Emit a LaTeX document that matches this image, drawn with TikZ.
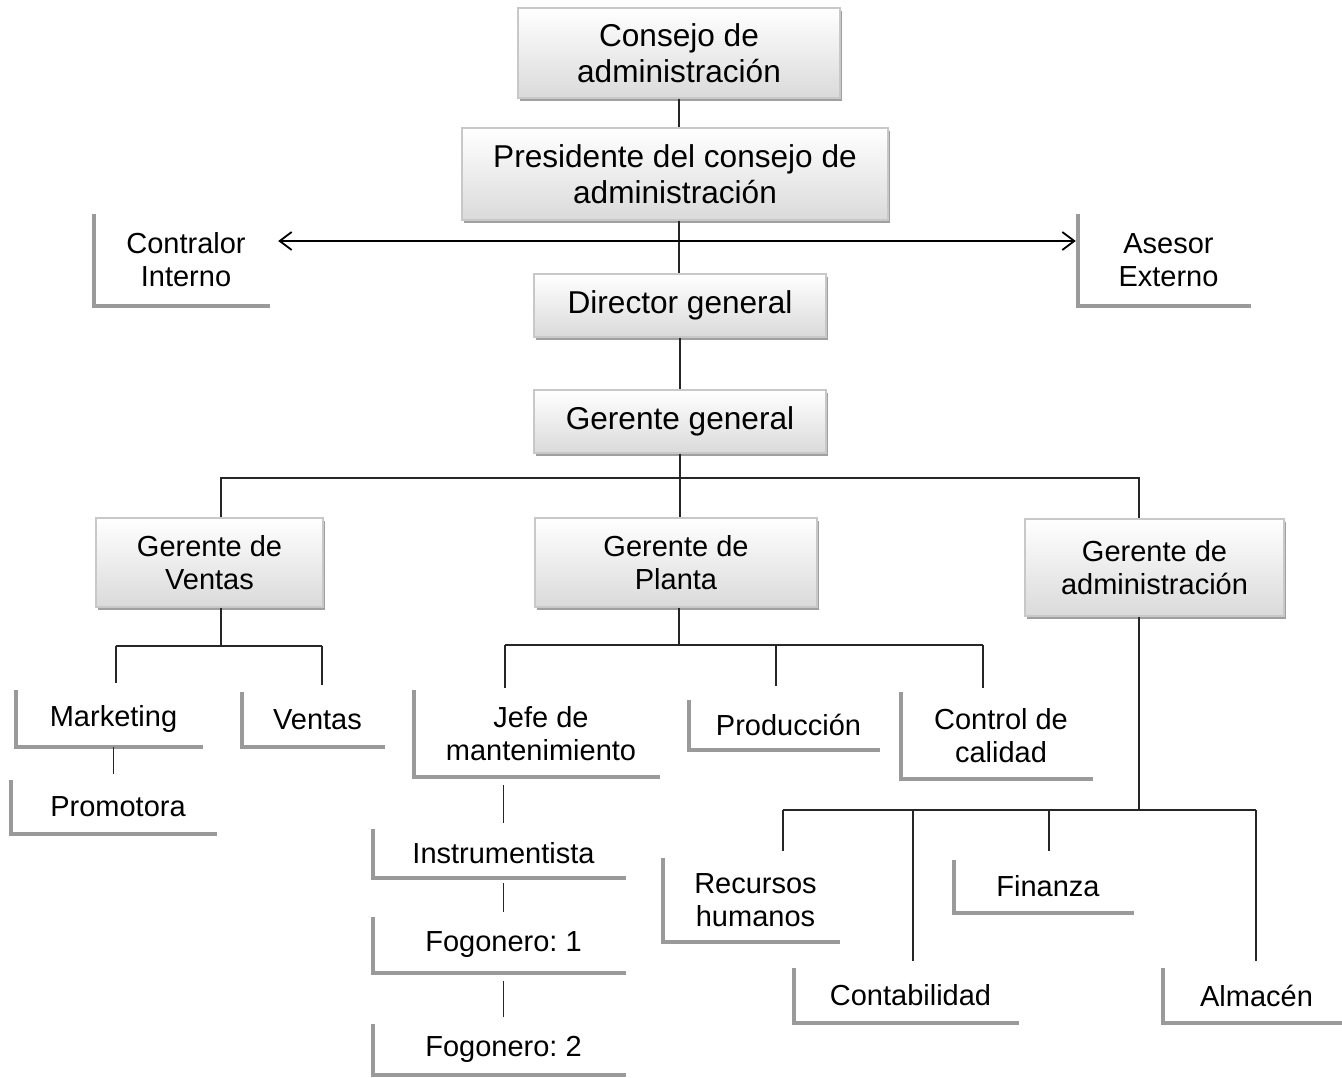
\documentclass[tikz,border=0pt]{standalone}
\usepackage{fontspec}
\setmainfont{Liberation Sans}
\usetikzlibrary{shadows,arrows.meta}
\definecolor{bline}{HTML}{9A9A9A}
\definecolor{boxedge}{HTML}{C8C8C8}
\definecolor{boxbot}{HTML}{DADADA}
\definecolor{shad}{HTML}{A0A0A0}
\frenchspacing
\begin{document}
\begin{tikzpicture}[x=1pt,y=-1pt,
  box/.style={draw=boxedge, line width=1.2pt, top color=white, bottom color=boxbot,
    drop shadow={shadow xshift=1.5pt, shadow yshift=-3pt, fill=shad, opacity=1},
    align=center, inner sep=0pt},
  bigtxt/.style={font=\fontsize{31.6}{36}\selectfont},
  smalltxt/.style={font=\fontsize{29}{33}\selectfont},
  lbox/.style={align=center, inner sep=0pt, font=\fontsize{29}{33}\selectfont},
  lshape/.style={draw=bline, line width=4pt, line join=miter},
  conn/.style={draw=black!85, line width=1.2pt},
]
\useasboundingbox (0,0) rectangle (1342,1078);

% boxes
\node[box,bigtxt,minimum width=322pt,minimum height=90pt] (cons) at (679,53) {Consejo de\\administración};
\node[box,bigtxt,minimum width=426pt,minimum height=92pt] (pres) at (675,174) {Presidente del consejo de\\administración};
\node[box,bigtxt,minimum width=292pt,minimum height=63pt] (dir) at (680,305.5) {Director general};
\node[box,bigtxt,minimum width=292pt,minimum height=63pt] (gg) at (680,421.5) {Gerente general};
\node[box,smalltxt,minimum width=227pt,minimum height=89pt] (gv) at (209.5,562.5) {Gerente de\\Ventas};
\node[box,smalltxt,minimum width=282pt,minimum height=89pt] (gp) at (676,562.5) {Gerente de\\Planta};
\node[box,smalltxt,minimum width=259pt,minimum height=97pt] (ga) at (1154.5,567.5) {Gerente de\\administración};

% bracket nodes (x range starts 8 right of the bracket line)
\node[lbox,minimum width=168pt,minimum height=92pt] (ci) at (186,260) {Contralor\\Interno};
\node[lbox,minimum width=165pt,minimum height=92pt] (ae) at (1168.5,260) {Asesor\\Externo};
\node[lbox,minimum width=179pt,minimum height=57pt] (mk) at (113.5,718.5) {Marketing};
\node[lbox,minimum width=135pt,minimum height=55pt] (ve) at (317.5,719.5) {Ventas};
\node[lbox,minimum width=198pt,minimum height=54pt] (pr) at (118,807) {Promotora};
\node[lbox,minimum width=238pt,minimum height=87pt] (jm) at (541,733.5) {Jefe de\\mantenimiento};
\node[lbox,minimum width=245pt,minimum height=49pt] (in) at (503.5,853.5) {Instrumentista};
\node[lbox,minimum width=245pt,minimum height=56pt] (f1) at (503.5,945) {Fogonero: 1};
\node[lbox,minimum width=245pt,minimum height=51pt] (f2) at (503.5,1049.5) {Fogonero: 2};
\node[lbox,minimum width=183pt,minimum height=50pt] (pd) at (788.5,725) {Producción};
\node[lbox,minimum width=184pt,minimum height=87pt] (cc) at (1001,735.5) {Control de\\calidad};
\node[lbox,minimum width=169pt,minimum height=84pt] (rh) at (755.5,900) {Recursos\\humanos};
\node[lbox,minimum width=172pt,minimum height=53pt] (fi) at (1048,886.5) {Finanza};
\node[lbox,minimum width=217pt,minimum height=55pt] (co) at (910.5,995.5) {Contabilidad};
\node[lbox,minimum width=171pt,minimum height=55pt] (al) at (1256.5,995.5) {Almacén};

\foreach \n in {ci,ae,mk,ve,pr,jm,in,f1,f2,pd,cc,rh,fi,co,al}{
  \draw[lshape] ([xshift=-8pt]\n.north west) |- (\n.south east);
}

% top chain
\draw[conn] (cons.south) -- (cons.south |- pres.north);
\draw[conn] (pres.south -| cons.south) -- (dir.north -| cons.south);
\draw[conn] (dir.south) -- (gg.north);
\draw[conn, {Straight Barb[length=12pt,width=18pt,line width=1.8pt]}-{Straight Barb[length=12pt,width=18pt,line width=1.8pt]}, line width=1.8pt, draw=black]
  ([shift={(8,-19)}]ci.east) -- ([shift={(-10,-19)}]ae.west);

% gerente general bus
\coordinate (xv) at (221,478);
\coordinate (xc) at (1139,478);
\draw[conn] (gg.south) -- (gp.north -| gg.south);
\draw[conn] (gv.north -| xv) -- (xv) -- (xc) -- (ga.north -| xc);

% ventas
\coordinate (v0) at (221,646);
\coordinate (vl) at (116,646);
\coordinate (vr) at (322,646);
\draw[conn] (gv.south -| v0) -- (v0);
\draw[conn] (vl) -- (vr);
\draw[conn, shorten >=7pt] (vl) -- (vl |- mk.north);
\draw[conn, shorten >=7pt] (vr) -- (vr |- ve.north);
\draw[conn, shorten >=6pt] (mk.south) -- (mk.south |- pr.north);

% planta
\coordinate (p0) at (679,645);
\coordinate (pl) at (505,645);
\coordinate (pm) at (776,645);
\coordinate (pq) at (983,645);
\draw[conn] (gp.south -| p0) -- (p0);
\draw[conn] (pl) -- (pq);
\draw[conn, shorten >=2pt] (pl) -- (pl |- jm.north);
\draw[conn, shorten >=14pt] (pm) -- (pm |- pd.north);
\draw[conn, shorten >=4pt] (pq) -- (pq |- cc.north);
\draw[conn, shorten <=8pt, shorten >=6pt] (in.north |- jm.south) -- (in.north);
\draw[conn, shorten <=5pt, shorten >=5pt] (in.south) -- (f1.north);
\draw[conn, shorten <=8pt, shorten >=7pt] (f1.south) -- (f2.north);

% administracion
\coordinate (a0) at (1139,810);
\coordinate (al0) at (783,810);
\coordinate (am1) at (913,810);
\coordinate (am2) at (1049,810);
\coordinate (ar0) at (1256,810);
\draw[conn] (ga.south -| a0) -- (a0);
\draw[conn] (al0) -- (ar0);
\draw[conn, shorten >=7pt] (al0) -- (al0 |- rh.north);
\draw[conn, shorten >=7pt] (am1) -- (am1 |- co.north);
\draw[conn, shorten >=9pt] (am2) -- (am2 |- fi.north);
\draw[conn, shorten >=7pt] (ar0) -- (ar0 |- al.north);
\end{tikzpicture}
\end{document}
